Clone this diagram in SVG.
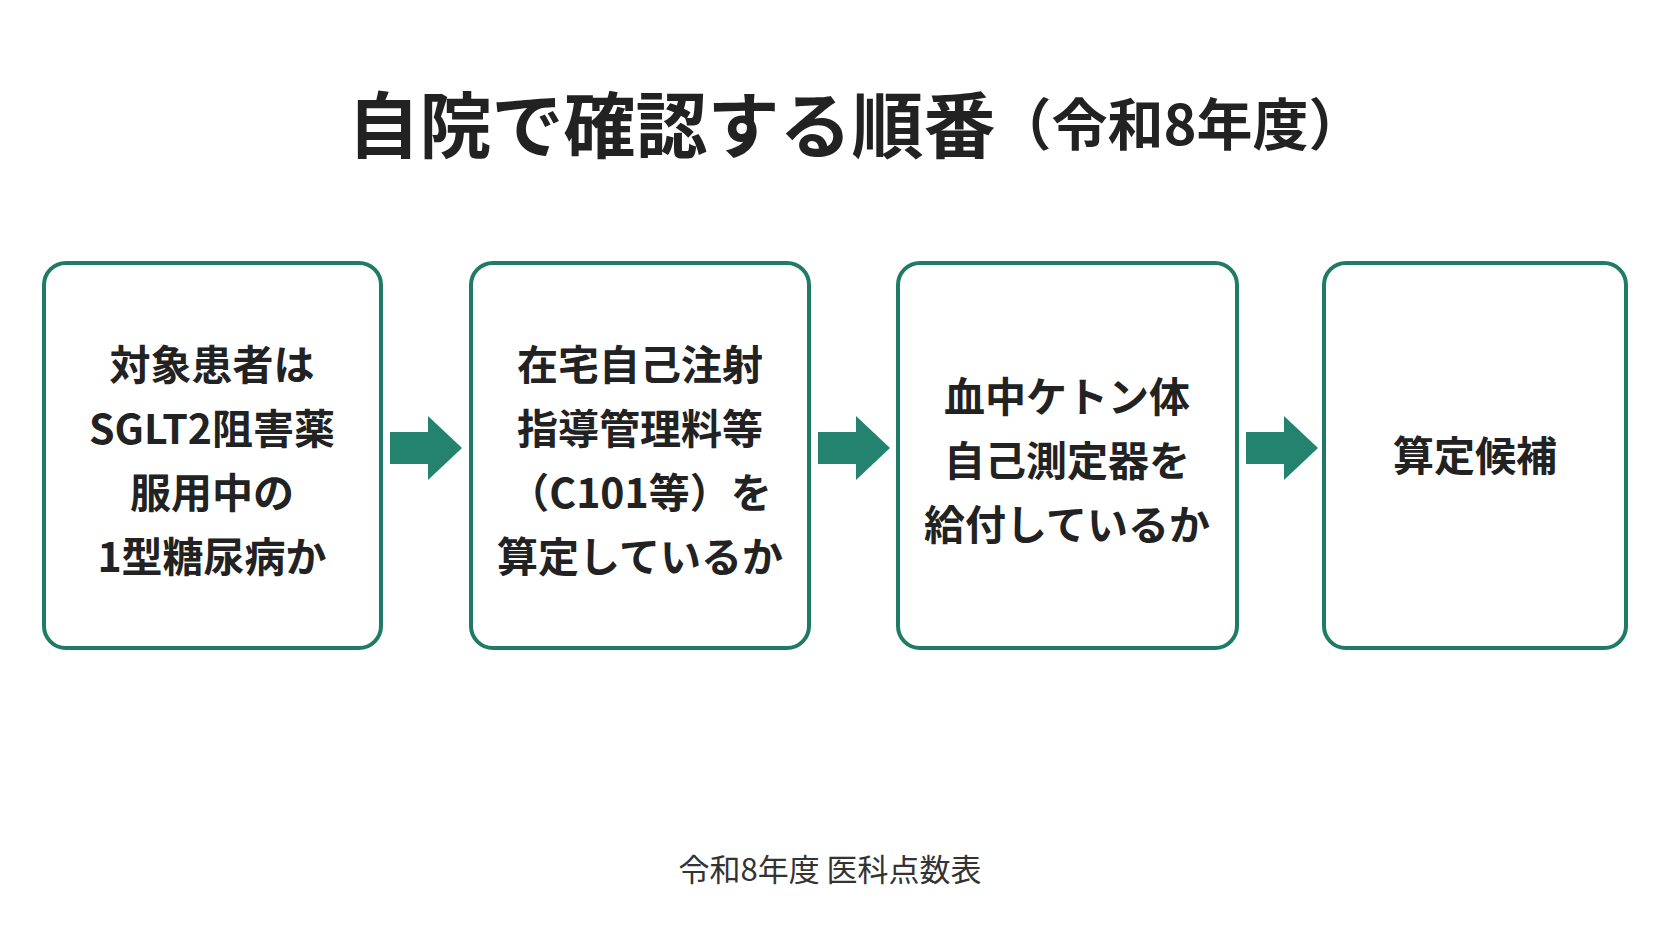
<svg xmlns="http://www.w3.org/2000/svg" width="1672" height="941" viewBox="0 0 1672 941">
<style>
.box{fill:#fff;stroke:#1f7a68;stroke-width:4}
.t{font-family:"Noto Sans CJK JP","Noto Sans",sans-serif;font-weight:700;font-size:41px;fill:#222;text-anchor:middle;dominant-baseline:central}
.arr{fill:#23836f}
</style>
<rect width="1672" height="941" fill="#fff"/>
<text x="856" y="120" class="t" style="font-size:72px">自院で確認する順番<tspan style="font-size:56px">（令和8年度）</tspan></text>
<g id="n1"><rect class="box" x="44" y="263" width="337" height="385" rx="22"/>
<text class="t" x="212" y="362">対象患者は</text><text class="t" x="212" y="426">SGLT2阻害薬</text><text class="t" x="212" y="490">服用中の</text><text class="t" x="212" y="554">1型糖尿病か</text></g>
<g id="n2"><rect class="box" x="471" y="263" width="338" height="385" rx="22"/>
<text class="t" x="640" y="362">在宅自己注射</text><text class="t" x="640" y="426">指導管理料等</text><text class="t" x="640" y="490">（C101等）を</text><text class="t" x="640" y="554">算定しているか</text></g>
<g id="n3"><rect class="box" x="898" y="263" width="339" height="385" rx="22"/>
<text class="t" x="1067" y="394">血中ケトン体</text><text class="t" x="1067" y="458">自己測定器を</text><text class="t" x="1067" y="522">給付しているか</text></g>
<g id="n4"><rect class="box" x="1324" y="263" width="302" height="385" rx="22"/>
<text class="t" x="1475" y="453">算定候補</text></g>
<g id="connectors">
<path class="arr" d="M390 432h38v-16l34 32l-34 32v-16h-38z"/>
<path class="arr" d="M818 432h38v-16l34 32l-34 32v-16h-38z"/>
<path class="arr" d="M1246 432h38v-16l34 32l-34 32v-16h-38z"/>
</g>
<text x="830" y="867" style="font-family:'Noto Sans CJK JP',sans-serif;font-size:31px;fill:#333;text-anchor:middle;dominant-baseline:central">令和8年度 医科点数表</text>
</svg>
